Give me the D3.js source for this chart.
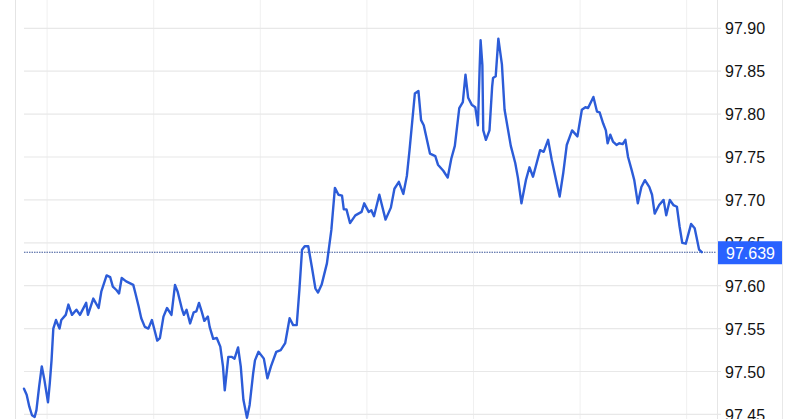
<!DOCTYPE html>
<html>
<head>
<meta charset="utf-8">
<script src="https://cdn.jsdelivr.net/npm/d3@7"></script>
<style>
  html, body { margin: 0; padding: 0; background: #ffffff; }
  svg { display: block; }
</style>
</head>
<body>
<svg id="chart" width="800" height="419"></svg>
<script>
// minutes since session start
const minutes = [0,3,6,9,12,14,17,20,23,27,29,31,33,36,40,42,47,50,54,59,63,70,72,78,84,87,93,97,100,104,107,110,115,123,125,129,132,136,140,144,147,150,153,157,161,166,170,173,178,180,183,187,191,194,197,200,203,207,209,213,217,221,224,226,230,234,237,241,244,247,251,254,258,260,264,270,274,278,284,289,294,299,303,307,310,313,316,320,324,328,331,335,341,346,350,354,358,360,363,367,373,380,383,388,391,394,400,407,413,417,422,427,431,434,437,440,444,447,450,457,463,466,472,477,481,485,490,494,497,500,504,508,511,513,514,516,517,520,524,527,528,531,534,538,541,548,553,556,560,565,569,573,581,585,590,594,599,603,607,611,617,623,628,632,635,641,645,648,652,655,657,660,663,667,670,674,677,680,684,687,691,695,699,704,707,710,715,720,723,727,731,735,738,741,745,751,755,757,760,763];
const prices = [97.480,97.473,97.459,97.449,97.447,97.455,97.482,97.506,97.490,97.464,97.486,97.513,97.550,97.560,97.550,97.560,97.566,97.578,97.566,97.572,97.566,97.580,97.566,97.585,97.574,97.593,97.612,97.610,97.599,97.595,97.591,97.609,97.605,97.601,97.593,97.576,97.562,97.552,97.550,97.560,97.548,97.536,97.539,97.564,97.574,97.566,97.601,97.593,97.572,97.566,97.572,97.556,97.569,97.570,97.580,97.570,97.559,97.564,97.552,97.538,97.539,97.529,97.506,97.478,97.517,97.517,97.515,97.528,97.506,97.467,97.446,97.461,97.498,97.513,97.523,97.515,97.492,97.506,97.523,97.525,97.533,97.562,97.554,97.554,97.595,97.642,97.646,97.646,97.622,97.597,97.592,97.601,97.626,97.665,97.714,97.706,97.705,97.689,97.689,97.673,97.682,97.686,97.696,97.686,97.688,97.681,97.706,97.677,97.691,97.713,97.721,97.707,97.728,97.758,97.791,97.824,97.827,97.793,97.787,97.754,97.751,97.741,97.734,97.726,97.748,97.763,97.807,97.814,97.846,97.819,97.811,97.808,97.787,97.856,97.886,97.857,97.781,97.770,97.781,97.832,97.842,97.844,97.888,97.858,97.805,97.763,97.743,97.726,97.696,97.723,97.738,97.727,97.758,97.756,97.770,97.747,97.723,97.704,97.731,97.764,97.781,97.774,97.805,97.808,97.807,97.820,97.803,97.802,97.789,97.781,97.766,97.776,97.768,97.764,97.766,97.765,97.770,97.750,97.735,97.723,97.696,97.715,97.723,97.715,97.706,97.684,97.694,97.700,97.682,97.700,97.694,97.692,97.669,97.650,97.649,97.672,97.667,97.657,97.642,97.639];
const lastPrice = 97.639;
const lastLabel = "97.639";
const yTicks = [97.45,97.50,97.55,97.60,97.65,97.70,97.75,97.80,97.85,97.90];
const gridMinutes = [26,146,266,386,506,626,746];

const data = minutes.map((m, i) => ({ m, p: prices[i] }));

const svg = d3.select("#chart");
const W = 800, H = 419;
const plotLeft = 24, plotRight = 716;

const x = d3.scaleLinear().domain([0, 779]).range([plotLeft, plotRight]);
const y = d3.scaleLinear().domain([97.45, 97.90]).range([414.4, 28.3]);

// outer border lines
svg.append("line").attr("x1", 15.5).attr("x2", 15.5).attr("y1", 0).attr("y2", H)
  .attr("stroke", "#e4e4e4").attr("stroke-width", 1);
svg.append("line").attr("x1", 782.5).attr("x2", 782.5).attr("y1", 0).attr("y2", H)
  .attr("stroke", "#e8e8e8").attr("stroke-width", 1);

// vertical grid
svg.append("g").selectAll("line").data(gridMinutes).join("line")
  .attr("x1", d => x(d)).attr("x2", d => x(d))
  .attr("y1", 0).attr("y2", H)
  .attr("stroke", "#f0f0f0").attr("stroke-width", 1);

// horizontal grid
svg.append("g").selectAll("line").data(yTicks).join("line")
  .attr("x1", plotLeft).attr("x2", plotRight + 5)
  .attr("y1", d => y(d)).attr("y2", d => y(d))
  .attr("stroke", "#e8e8e8").attr("stroke-width", 1.2);

// axis separator
svg.append("line").attr("x1", 717.5).attr("x2", 717.5).attr("y1", 0).attr("y2", H)
  .attr("stroke", "#e6e6e6").attr("stroke-width", 1);

// right axis labels
const axis = d3.axisRight(y).tickValues(yTicks).tickFormat(d3.format(".2f")).tickSize(0).tickPadding(0);
const axG = svg.append("g").attr("transform", `translate(725,0)`).call(axis);
axG.select(".domain").remove();
axG.selectAll("text")
  .attr("font-family", "Liberation Sans, Arial, sans-serif")
  .attr("font-size", 16)
  .attr("fill", "#131313")
  .attr("dy", "0.35em")
  .attr("x", 0);

// price line (dotted)
svg.append("line")
  .attr("x1", plotLeft).attr("x2", plotRight)
  .attr("y1", y(lastPrice)).attr("y2", y(lastPrice))
  .attr("stroke", "#3a5598").attr("stroke-width", 1)
  .attr("stroke-dasharray", "1.5,1");

// series line
const line = d3.line().x(d => x(d.m)).y(d => y(d.p)).curve(d3.curveLinear);
svg.append("path").datum(data)
  .attr("d", line)
  .attr("fill", "none")
  .attr("stroke", "#2c5cd8")
  .attr("stroke-width", 2.4)
  .attr("stroke-linejoin", "round")
  .attr("stroke-linecap", "round");

// last price label box
const ly = y(lastPrice);
svg.append("rect")
  .attr("x", 718).attr("y", ly - 11).attr("width", 64).attr("height", 23)
  .attr("fill", "#2962ff");
svg.append("text")
  .attr("x", 726).attr("y", ly + 1).attr("dy", "0.35em")
  .attr("font-family", "Liberation Sans, Arial, sans-serif")
  .attr("font-size", 16)
  .attr("fill", "#ffffff")
  .text(lastLabel);
</script>
</body>
</html>
